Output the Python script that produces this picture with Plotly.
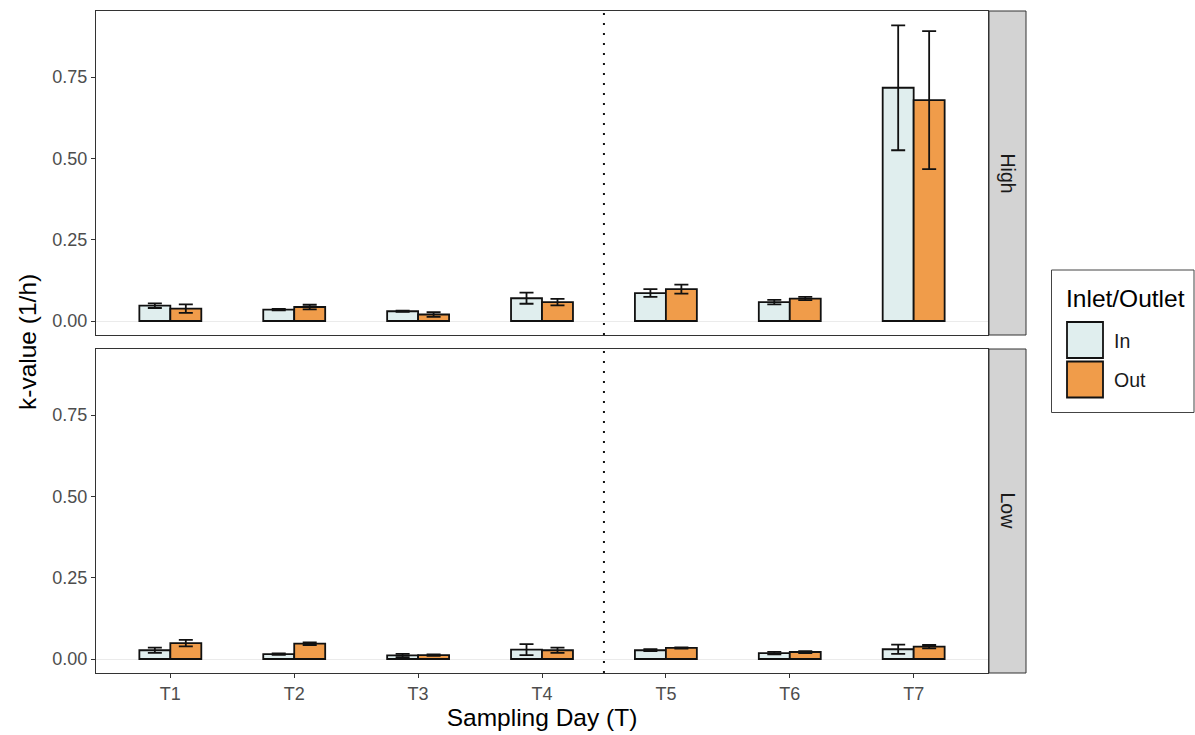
import plotly.graph_objects as go
from plotly.subplots import make_subplots

# Sampling days and k-value summaries (mean and error) per flow level
days = ["T1", "T2", "T3", "T4", "T5", "T6", "T7"]

high_in_mean = [0.047, 0.035, 0.030, 0.070, 0.086, 0.058, 0.717]
high_in_err = [0.007, 0.002, 0.002, 0.017, 0.012, 0.007, 0.192]
high_out_mean = [0.038, 0.043, 0.020, 0.058, 0.098, 0.069, 0.679]
high_out_err = [0.013, 0.007, 0.007, 0.010, 0.014, 0.005, 0.212]

low_in_mean = [0.027, 0.015, 0.011, 0.029, 0.027, 0.018, 0.030]
low_in_err = [0.008, 0.002, 0.005, 0.017, 0.003, 0.004, 0.014]
low_out_mean = [0.049, 0.047, 0.012, 0.027, 0.034, 0.0215, 0.038]
low_out_err = [0.010, 0.004, 0.002, 0.008, 0.002, 0.003, 0.005]

panels = ["High", "Low"]
groups = ["In", "Out"]
colors = {"In": "#E0EEEE", "Out": "#F09C4A"}

W, H = 1195, 735
FONT = "Liberation Sans"
TITLE_SIZE = 24.5
TICK_SIZE = 18
LABEL_SIZE = 19.5

fig = make_subplots(rows=2, cols=1, shared_xaxes=True)

data = {
    ("High", "In"): (high_in_mean, high_in_err),
    ("High", "Out"): (high_out_mean, high_out_err),
    ("Low", "In"): (low_in_mean, low_in_err),
    ("Low", "Out"): (low_out_mean, low_out_err),
}

xpos = list(range(1, len(days) + 1))
for r, panel in enumerate(panels, start=1):
    for g in groups:
        mean, err = data[(panel, g)]
        fig.add_trace(
            go.Bar(
                x=xpos, y=mean, name=g, offsetgroup=g, showlegend=False,
                marker=dict(color=colors[g], line=dict(color="#111111", width=1.8)),
                error_y=dict(type="data", array=err, visible=True,
                             color="#111111", thickness=1.8, width=7),
            ),
            row=r, col=1,
        )

px = lambda v: v / W
py = lambda v: 1 - v / H

x_dom = [px(96), px(988)]
y_top = [py(335), py(11)]
y_bot = [py(673), py(349)]
yr = [-0.043, 0.953]

axis_common = dict(
    showline=True, linecolor="#333333", linewidth=1, mirror=True,
    ticks="outside", ticklen=4, tickcolor="#333333", tickwidth=1,
    tickfont=dict(family=FONT, size=TICK_SIZE, color="#4D4D4D"),
    showgrid=False,
)

fig.update_xaxes(range=[0.4, 7.6], domain=x_dom, **axis_common)
fig.update_xaxes(showticklabels=False, ticks="", row=1, col=1)
fig.update_xaxes(tickvals=xpos, ticktext=days, row=2, col=1,
                 title=dict(text="Sampling Day (T)", standoff=4,
                            font=dict(family=FONT, size=TITLE_SIZE, color="#000000")))
fig.update_yaxes(range=yr, tickvals=[0, 0.25, 0.5, 0.75],
                 ticktext=["0.00", "0.25", "0.50", "0.75"],
                 zeroline=True, zerolinecolor="#EBEBEB", zerolinewidth=1.2,
                 **axis_common)
fig.update_yaxes(domain=y_top, row=1, col=1)
fig.update_yaxes(domain=y_bot, row=2, col=1)

shapes = []
annotations = []

# Dotted separator between T4 and T5 in both panels
for yref in ["y domain", "y2 domain"]:
    xref = "x" if yref == "y domain" else "x2"
    shapes.append(dict(type="line", xref=xref, yref=yref, x0=4.5, x1=4.5, y0=0, y1=1,
                       line=dict(color="#111111", width=2, dash="2px,8px")))

# Facet strips
for dom, label in [(y_top, "High"), (y_bot, "Low")]:
    shapes.append(dict(type="rect", xref="paper", yref="paper",
                       x0=px(989), x1=px(1026), y0=dom[0], y1=dom[1],
                       fillcolor="#D3D3D3", line=dict(color="#333333", width=1)))
    annotations.append(dict(xref="paper", yref="paper", x=px(1007.5),
                            y=(dom[0] + dom[1]) / 2, text=label, showarrow=False,
                            textangle=90, xanchor="center", yanchor="middle",
                            font=dict(family=FONT, size=LABEL_SIZE, color="#1A1A1A")))

# Y axis title shared by both panels
annotations.append(dict(xref="paper", yref="paper", x=px(27), y=(y_bot[0] + y_top[1]) / 2,
                        text="k-value (1/h)", showarrow=False, textangle=-90,
                        xanchor="center", yanchor="middle",
                        font=dict(family=FONT, size=TITLE_SIZE, color="#000000")))

# Legend
shapes.append(dict(type="rect", xref="paper", yref="paper",
                   x0=px(1051.5), x1=px(1194), y0=py(412.5), y1=py(270),
                   fillcolor="#FFFFFF", line=dict(color="#444444", width=1)))
annotations.append(dict(xref="paper", yref="paper", x=px(1064), y=py(298),
                        xanchor="left", yanchor="middle", text="Inlet/Outlet",
                        showarrow=False,
                        font=dict(family=FONT, size=TITLE_SIZE, color="#000000")))
for i, g in enumerate(groups):
    top = 322 + i * 39.5
    shapes.append(dict(type="rect", xref="paper", yref="paper",
                       x0=px(1067), x1=px(1103), y0=py(top + 36), y1=py(top),
                       fillcolor=colors[g], line=dict(color="#111111", width=1.8)))
    annotations.append(dict(xref="paper", yref="paper", x=px(1112), y=py(top + 19),
                            xanchor="left", yanchor="middle", text=g, showarrow=False,
                            font=dict(family=FONT, size=LABEL_SIZE, color="#1A1A1A")))

fig.update_layout(
    width=W, height=H,
    margin=dict(l=0, r=0, t=0, b=0),
    paper_bgcolor="#FFFFFF", plot_bgcolor="#FFFFFF",
    barmode="group", bargap=0.5, bargroupgap=0,
    showlegend=False,
    shapes=shapes, annotations=annotations,
    font=dict(family=FONT),
)

fig.write_html("out.html")
